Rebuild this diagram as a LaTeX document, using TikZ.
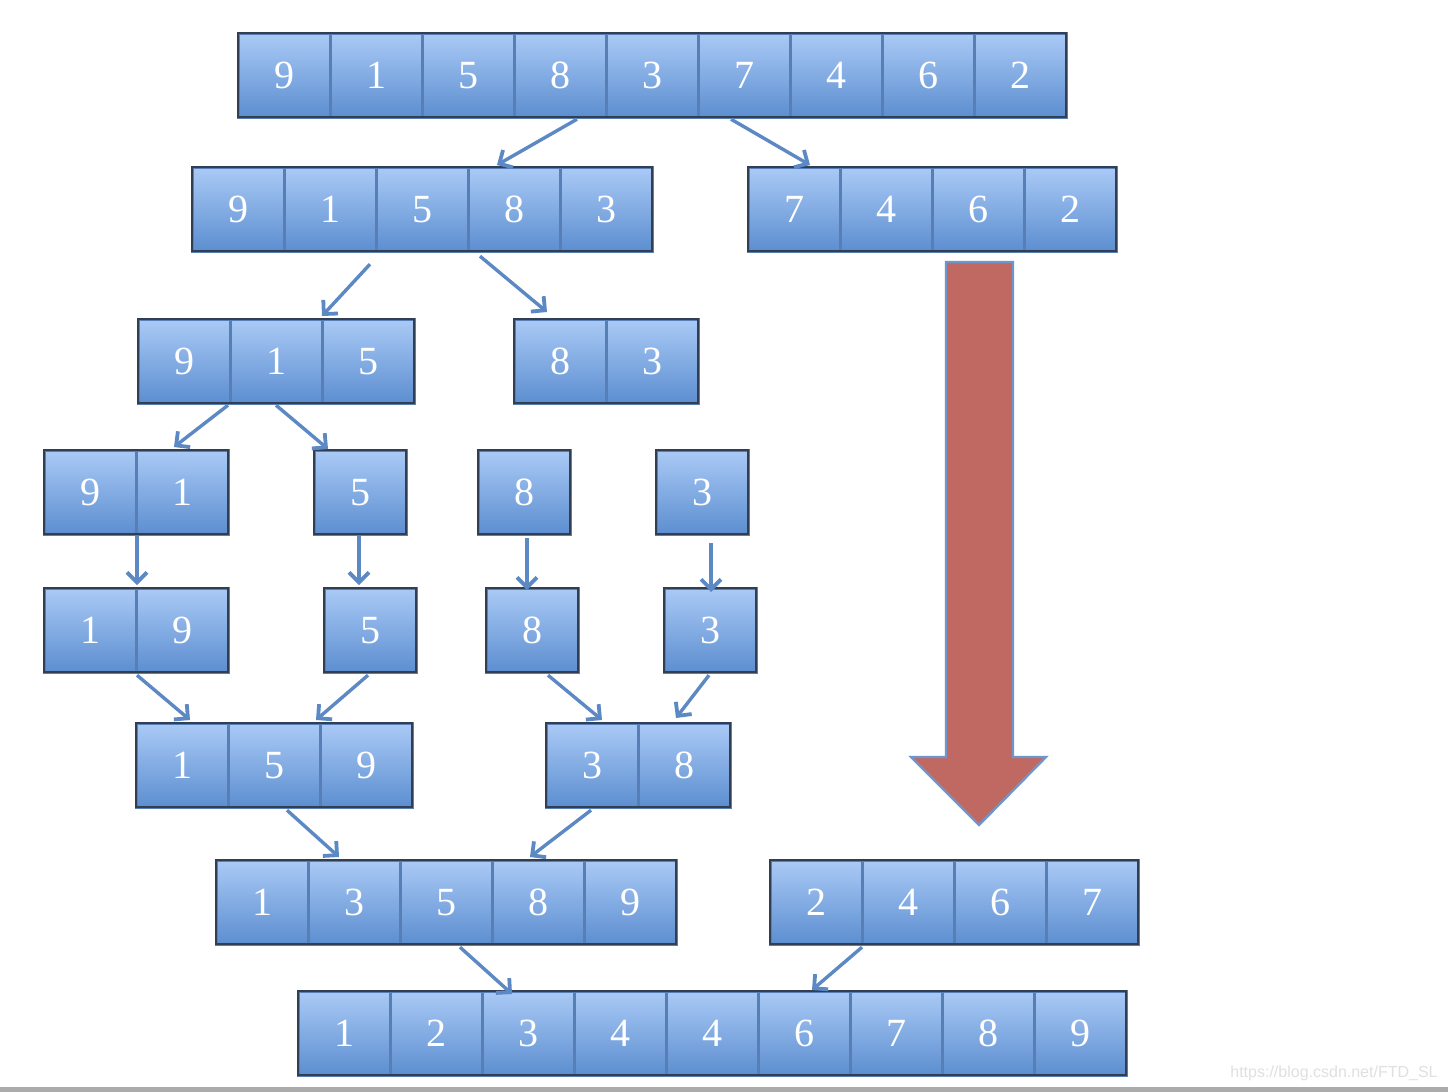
\documentclass[tikz,border=0pt]{standalone}
\usepackage{fontspec}
\setmainfont{Liberation Serif}
\newfontfamily\wmfont{Liberation Sans}
\usetikzlibrary{arrows.meta,calc}
\definecolor{celltop}{RGB}{170,202,246}
\definecolor{cellbot}{RGB}{92,142,208}
\definecolor{cellsep}{RGB}{88,126,182}
\definecolor{frameline}{RGB}{50,62,82}
\definecolor{arrowblue}{RGB}{92,136,196}
\definecolor{bigred}{RGB}{192,104,98}
\definecolor{bigedge}{RGB}{110,150,205}
\tikzset{
  cellbox/.style={anchor=north west, minimum width=46pt, minimum height=42pt,
    inner sep=0pt, top color=celltop, bottom color=cellbot, draw=cellsep,
    line width=1.3pt, text=white, font=\fontsize{20}{24}\selectfont},
  framebox/.style={anchor=north west, minimum height=42pt, inner sep=0pt,
    draw=frameline, line width=1.1pt},
  link/.style={draw=arrowblue, line width=1.7pt,
    -{Straight Barb[length=5pt,width=10pt,line width=1.9pt]}},
}
% name, count, left px, top px, values
\newcommand\arrblock[5]{%
  \foreach \v [count=\i] in {#5} {
    \node[cellbox] (#1-\i) at ({#3+92*(\i-1)},#4) {\v};
  }
  \node[framebox, minimum width=#2*46pt] (#1) at (#3,#4) {};
}
\begin{document}
\begin{tikzpicture}[x=0.5pt,y=-0.5pt]
\useasboundingbox (0,0) rectangle (1448,1092);
\fill[white] (0,0) rectangle (1448,1092);
\fill[black!33] (0,1087) rectangle (1448,1092);
\node[anchor=east, text=black!12, font=\wmfont\fontsize{8}{10}\selectfont, inner sep=0pt] (wm) at (1438,1073) {https://blog.csdn.net/FTD\_SL};

\arrblock{r1}{9}{237}{32}{9,1,5,8,3,7,4,6,2}
\arrblock{r2a}{5}{191}{166}{9,1,5,8,3}
\arrblock{r2b}{4}{747}{166}{7,4,6,2}
\arrblock{r3a}{3}{137}{318}{9,1,5}
\arrblock{r3b}{2}{513}{318}{8,3}
\arrblock{r4a}{2}{43}{449}{9,1}
\arrblock{r4b}{1}{313}{449}{5}
\arrblock{r4c}{1}{477}{449}{8}
\arrblock{r4d}{1}{655}{449}{3}
\arrblock{r5a}{2}{43}{587}{1,9}
\arrblock{r5b}{1}{323}{587}{5}
\arrblock{r5c}{1}{485}{587}{8}
\arrblock{r5d}{1}{663}{587}{3}
\arrblock{r6a}{3}{135}{722}{1,5,9}
\arrblock{r6b}{2}{545}{722}{3,8}
\arrblock{r7a}{5}{215}{859}{1,3,5,8,9}
\arrblock{r7b}{4}{769}{859}{2,4,6,7}
\arrblock{r8}{9}{297}{990}{1,2,3,4,4,6,7,8,9}

% big red arrow
\filldraw[fill=bigred, draw=bigedge, line width=1.2pt]
  (946,262) -- (1013,262) -- (1013,757) -- (1046,757) -- (979,825)
  -- (911,757) -- (946,757) -- cycle;

% connectors
\draw[link] ($(r1.south west)+(340,1)$) -- ($(r2a.north west)+(306,-1)$);
\draw[link] ($(r1.south west)+(494,1)$) -- ($(r2b.north west)+(63,-1)$);
\draw[link] ($(r2a.south west)+(179,12)$) -- ($(r3a.north west)+(185,-2)$);
\draw[link] ($(r2a.south west)+(289,4)$) -- ($(r3b.north west)+(34,-6)$);
\draw[link] ($(r3a.south west)+(91,1)$) -- ($(r4a.north west)+(131,-2)$);
\draw[link] ($(r3a.south west)+(139,1)$) -- ($(r4b.north west)+(15,0)$);
\draw[link] ($(r4a.south west)+(94,1)$) -- ($(r5a.north west)+(94,-2)$);
\draw[link] ($(r4b.south west)+(46,1)$) -- ($(r5b.north west)+(36,-2)$);
\draw[link] ($(r4c.south west)+(50,3)$) -- ($(r5c.north west)+(42,3)$);
\draw[link] ($(r4d.south west)+(56,8)$) -- ($(r5d.north west)+(48,5)$);
\draw[link] ($(r5a.south west)+(94,2)$) -- ($(r6a.north west)+(55,-2)$);
\draw[link] ($(r5b.south west)+(45,2)$) -- ($(r6a.north west)+(181,-2)$);
\draw[link] ($(r5c.south west)+(63,2)$) -- ($(r6b.north west)+(57,-2)$);
\draw[link] ($(r5d.south west)+(46,2)$) -- ($(r6b.north west)+(131,-4)$);
\draw[link] ($(r6a.south west)+(152,2)$) -- ($(r7a.north west)+(124,-2)$);
\draw[link] ($(r6b.south west)+(46,2)$) -- ($(r7a.north west)+(315,-2)$);
\draw[link] ($(r7a.south west)+(245,2)$) -- ($(r8.north west)+(215,4)$);
\draw[link] ($(r7b.south west)+(93,2)$) -- ($(r8.north west)+(515,0)$);
\end{tikzpicture}
\end{document}
